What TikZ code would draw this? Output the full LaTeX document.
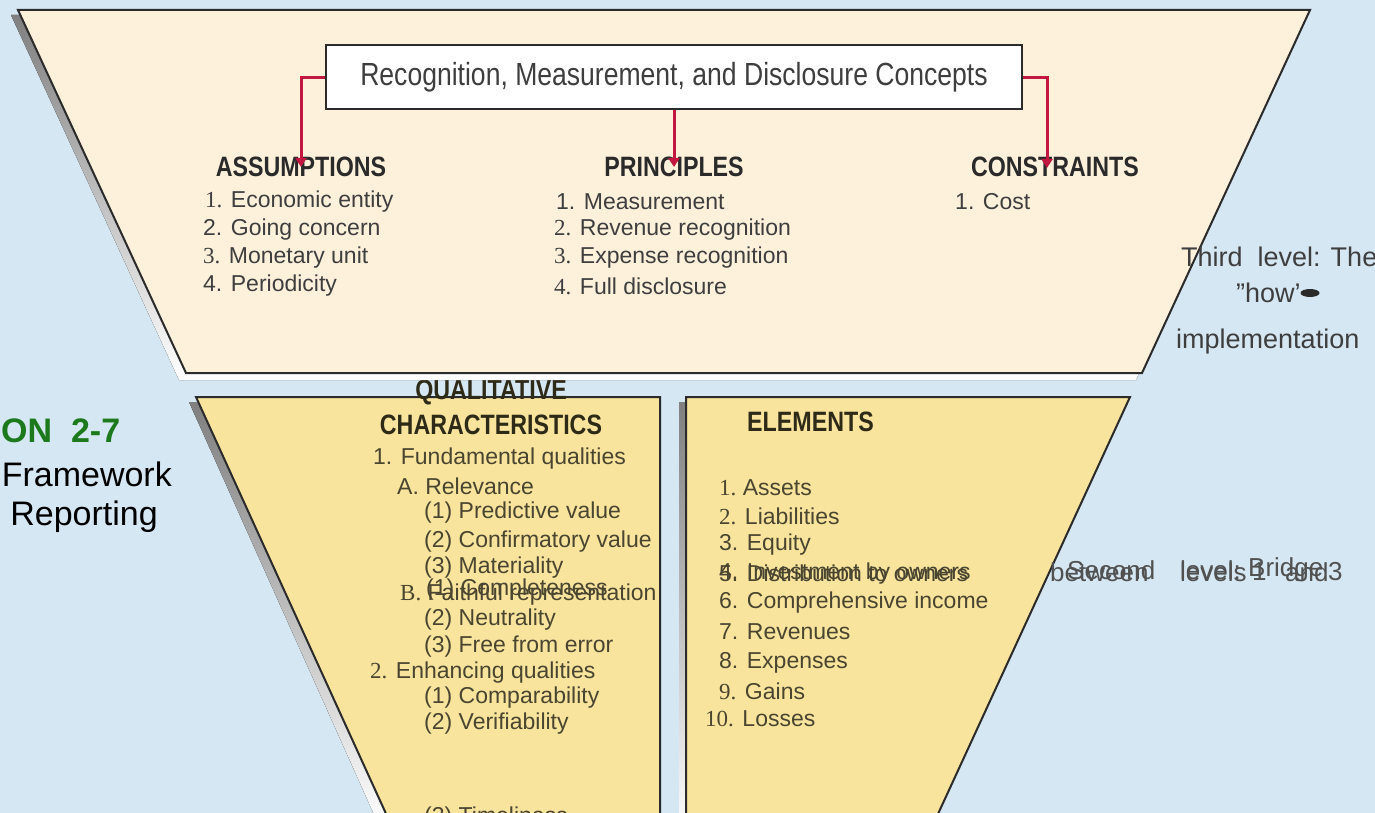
\documentclass[tikz,border=0pt]{standalone}
\usepackage{fontspec}
\setmainfont{Liberation Sans}
\newfontfamily\cond{Liberation Sans}[FakeStretch=0.83]
\newfontfamily\sernum{Liberation Serif}
\usetikzlibrary{arrows.meta,shapes.geometric}
\definecolor{bgblue}{HTML}{D5E7F3}
\definecolor{cream}{HTML}{FDF1DC}
\definecolor{yellowp}{HTML}{F8E49D}
\definecolor{shade}{HTML}{8E8E8E}
\definecolor{edgec}{HTML}{2B2B2B}
\definecolor{redc}{HTML}{C2173E}
\definecolor{txtA}{HTML}{3E3E3E}
\definecolor{txtB}{HTML}{4A4530}
\definecolor{headA}{HTML}{2A2A2A}
\definecolor{headB}{HTML}{2E2A18}
\definecolor{greenc}{HTML}{1C7A1C}
\tikzset{
  panel/.style={draw=edgec, line width=2pt, line join=miter},
  item/.style={anchor=west, inner sep=0pt, font=\fontsize{23}{26}\selectfont, text=txtA},
  itemB/.style={item, text=txtB},
  head/.style={inner sep=0pt, font=\cond\bfseries\fontsize{28}{30}\selectfont, text=headA},
  headb/.style={head, text=headB},
  side/.style={inner sep=0pt, font=\fontsize{27}{30}\selectfont, text=txtA},
  bridge/.style={anchor=west, inner sep=0pt, font=\fontsize{26}{28}\selectfont, text=txtA!90},
  conn/.style={draw=redc, line width=3pt, -{Triangle[width=11pt,length=9pt]}},
}
\begin{document}
\begin{tikzpicture}[x=1pt,y=-1pt]
\useasboundingbox (0,0) rectangle (1375,813);
\clip (0,0) rectangle (1375,813);
\fill[bgblue] (0,0) rectangle (1375,813);

% lower panels: shadows and panels
\fill[shade] (189,402) -- (653,402) -- (653,830) -- (381,830) -- cycle;
\filldraw[panel, fill=yellowp] (196,397) -- (660,397) -- (660,840) -- (398,840) -- cycle;
\fill[shade] (679,402) -- (1123,402) -- (924,840) -- (679,840) -- cycle;
\filldraw[panel, fill=yellowp] (686,397) -- (1130,397) -- (926,840) -- (686,840) -- cycle;

\node[headb] (qual) at (491,392) {QUALITATIVE};

% top panel
\fill[shade] (11,15) -- (1303,15) -- (1136,380) -- (179,380) -- cycle;
\filldraw[panel, fill=cream] (18,10) -- (1310,10) -- (1142,373) -- (186,373) -- cycle;

% header box
\node[draw=edgec, line width=2pt, fill=white, minimum width=696pt, minimum height=64pt, inner sep=0pt,
      font=\cond\fontsize{32}{34}\selectfont, text=txtA] (hdr) at (674,77.5)
      {Recognition, Measurement, and Disclosure Concepts};

% top panel headings and items
\node[head] (assum) at (301,167) {ASSUMPTIONS};
\node[head] (princ) at (674,167) {PRINCIPLES};
\node[head] (constr) at (1055,167) {CONSTRAINTS};

\node[item] (a1) at (205,202) {{\sernum 1.} Economic entity};
\node[item] (a2) at (203,230) {2. Going concern};
\node[item] (a3) at (203,258) {{\sernum 3.} Monetary unit};
\node[item] (a4) at (203,286) {4. Periodicity};

\node[item] (p1) at (556,202) {1. Measurement};
\node[item] (p2) at (554,230) {{\sernum 2.} Revenue recognition};
\node[item] (p3) at (554,258) {{\sernum 3.} Expense recognition};
\node[item] (p4) at (554,286) {{\sernum 4.} Full disclosure};

\node[item] (c1) at (955,202) {1. Cost};

% connectors
\coordinate (cT) at (1047,168);
\draw[conn] (hdr.west) -| (assum.center);
\draw[conn] (hdr.south) -- (hdr.south |- princ.center);
\draw[conn] (hdr.east) -| (cT);

% third level label
\node[side, anchor=west] (t1) at (1181,257) {Third\ \ level: The};
\node[side, anchor=west] (t2) at (1236,293) {\symbol{34}how\symbol{39}};
\node[ellipse, fill=headA, minimum width=19pt, minimum height=8pt, inner sep=0pt] (dot) at (1310,293) {};
\node[side, anchor=west] (t3) at (1176,342) {implementation};

% left title
\node[anchor=west, inner sep=0pt, font=\bfseries\fontsize{34}{36}\selectfont, text=greenc] (ill) at (1,431) {ON\ \ 2-7};
\node[anchor=east, inner sep=0pt, font=\fontsize{34}{36}\selectfont, text=black] (fw) at (172,474) {Framework};
\node[anchor=east, inner sep=0pt, font=\fontsize{34}{36}\selectfont, text=black] (rp) at (158,517) {Reporting};

% qualitative characteristics
\node[headb] (chars) at (491,425) {CHARACTERISTICS};
\node[itemB] (q1) at (373,459) {1. Fundamental qualities};
\node[itemB] (q2) at (397,486) {A. Relevance};
\node[itemB] (q3) at (424,513) {(1) Predictive value};
\node[itemB] (q4) at (424,542) {(2) Confirmatory value};
\node[itemB] (q5) at (424,568) {(3) Materiality};
\node[itemB] (q6) at (400,595) {{\sernum B.} Faithful representation};
\node[itemB] (q6b) at (426,590) {(1) Completeness};
\node[itemB] (q7) at (424,620) {(2) Neutrality};
\node[itemB] (q8) at (424,647) {(3) Free from error};
\node[itemB] (q9) at (370,673) {{\sernum 2.} Enhancing qualities};
\node[itemB] (q10) at (424,698) {(1) Comparability};
\node[itemB] (q11) at (424,724) {(2) Verifiability};
\node[itemB] (q12) at (424,818) {(3) Timeliness};

% elements
\node[headb, anchor=west] (elem) at (747,422) {ELEMENTS};
\node[itemB, anchor=west] (e1) at (719,488) {{\sernum 1.}\ Assets};
\node[itemB] (e2) at (719,516) {{\sernum 2.} Liabilities};
\node[itemB] (e3) at (719,545) {3. Equity};
\node[itemB] (e4) at (719,574) {4. Investment by owners};
\node[itemB] (e5) at (719,573) {5. Distribution to owners};
\node[itemB] (e6) at (719,603) {6. Comprehensive income};
\node[itemB] (e7) at (719,632) {7. Revenues};
\node[itemB] (e8) at (719,663) {8. Expenses};
\node[itemB] (e9) at (719,691) {{\sernum 9.} Gains};
\node[itemB] (e10) at (705,719) {{\sernum 10.} Losses};

% second level label (overprinted)
\node[bridge] (b1) at (1050,572) {between};
\node[bridge] (b2) at (1180,572) {levels};
\node[bridge] (b3) at (1252,572) {1};
\node[bridge] (b4) at (1285,572) {and};
\node[bridge] (b5) at (1328,572) {3};
\node[bridge] (s1) at (1067,570) {Second};
\node[bridge] (s2) at (1180,570) {level:};
\node[bridge] (s3) at (1248,570) {Bridge};
\end{tikzpicture}
\end{document}
